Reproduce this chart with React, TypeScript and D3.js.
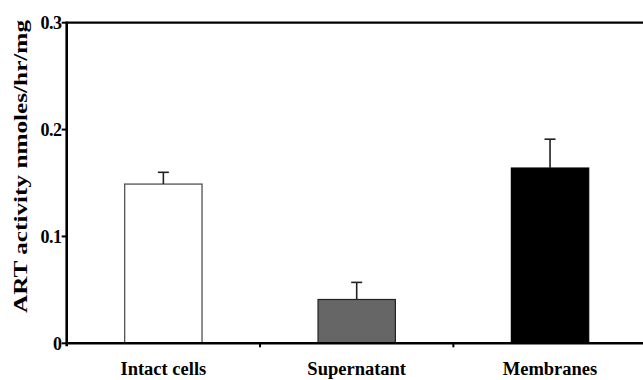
import React, { useEffect, useRef } from "react";
import * as d3 from "d3";

// 데이터
const categories = ["Intact cells", "Supernatant", "Membranes"];
const values = [0.149, 0.041, 0.164];
const errors = [0.011, 0.016, 0.027];
const fills = ["#ffffff", "#666666", "#000000"];
const strokes = ["#444444", "#222222", "#000000"];
const yTicks = [0, 0.1, 0.2, 0.3];
const yTickLabels = ["0", "0.1", "0.2", "0.3"];

const App = () => {
  const svgRef = useRef<SVGSVGElement | null>(null);

  useEffect(() => {
    const width = 643;
    const height = 380;
    const left = 66.7;
    const top = 22.7;
    const bottom = 343.3;

    const svg = d3.select(svgRef.current);
    svg.selectAll("*").remove();
    svg.attr("width", width).attr("height", height);

    const x = d3.scaleBand().domain(categories).range([left, 646.7]).padding(0);
    const y = d3.scaleLinear().domain([0, 0.3]).range([bottom, top]);
    const barW = x.bandwidth() * 0.4;

    // 막대
    svg
      .selectAll("rect.bar")
      .data(categories)
      .enter()
      .append("rect")
      .attr("class", "bar")
      .attr("x", (d) => x(d)! + x.bandwidth() / 2 - barW / 2)
      .attr("y", (d, i) => y(values[i]))
      .attr("width", barW)
      .attr("height", (d, i) => y(0) - y(values[i]))
      .attr("fill", (d, i) => fills[i])
      .attr("stroke", (d, i) => strokes[i])
      .attr("stroke-width", 1.2);

    // 오차 막대 (위쪽만)
    const err = svg.append("g").attr("stroke", "#222").attr("stroke-width", 1.6);
    categories.forEach((c, i) => {
      const cx = x(c)! + x.bandwidth() / 2;
      err
        .append("line")
        .attr("x1", cx)
        .attr("x2", cx)
        .attr("y1", y(values[i]))
        .attr("y2", y(values[i] + errors[i]));
      err
        .append("line")
        .attr("x1", cx - 5.5)
        .attr("x2", cx + 5.5)
        .attr("y1", y(values[i] + errors[i]))
        .attr("y2", y(values[i] + errors[i]));
    });

    // 축
    const axis = svg.append("g").attr("stroke", "#000");
    axis
      .append("line")
      .attr("x1", left)
      .attr("x2", left)
      .attr("y1", top - 1)
      .attr("y2", bottom + 3)
      .attr("stroke-width", 2.6);
    axis
      .append("line")
      .attr("x1", left - 1)
      .attr("x2", width)
      .attr("y1", bottom)
      .attr("y2", bottom)
      .attr("stroke-width", 2.4);
    axis
      .append("line")
      .attr("x1", left - 1)
      .attr("x2", width)
      .attr("y1", top)
      .attr("y2", top)
      .attr("stroke-width", 2.2);

    // y 눈금
    yTicks.forEach((t, i) => {
      axis
        .append("line")
        .attr("x1", left - 5)
        .attr("x2", left)
        .attr("y1", y(t))
        .attr("y2", y(t))
        .attr("stroke-width", 2);
      svg
        .append("text")
        .attr("x", 61.5)
        .attr("y", y(t))
        .attr("dy", "0.35em")
        .attr("text-anchor", "end")
        .attr("font-family", "Liberation Serif, Times New Roman, serif")
        .attr("font-weight", "bold")
        .attr("font-size", 18)
        .attr("letter-spacing", -0.5)
        .text(yTickLabels[i]);
    });

    // x 눈금 (범주 사이)
    categories.slice(1).forEach((c) => {
      axis
        .append("line")
        .attr("x1", x(c)!)
        .attr("x2", x(c)!)
        .attr("y1", bottom)
        .attr("y2", bottom + 4)
        .attr("stroke-width", 2);
    });

    // 범주 라벨
    svg
      .selectAll("text.cat")
      .data(categories)
      .enter()
      .append("text")
      .attr("class", "cat")
      .attr("x", (d) => x(d)! + x.bandwidth() / 2)
      .attr("y", 375)
      .attr("text-anchor", "middle")
      .attr("font-family", "Liberation Serif, Times New Roman, serif")
      .attr("font-weight", "bold")
      .attr("font-size", 18.5)
      .text((d) => d);

    // y 라벨
    svg
      .append("text")
      .attr("transform", "translate(27,166.5) rotate(-90)")
      .attr("text-anchor", "middle")
      .attr("font-family", "Liberation Serif, Times New Roman, serif")
      .attr("font-weight", "bold")
      .attr("font-size", 19)
      .attr("textLength", 293)
      .attr("lengthAdjust", "spacingAndGlyphs")
      .text("ART activity nmoles/hr/mg");
  }, []);

  return (
    <div style={{ position: "absolute", left: 0, top: 0, background: "#fff" }}>
      <svg ref={svgRef} style={{ display: "block" }} />
    </div>
  );
};

export default App;
